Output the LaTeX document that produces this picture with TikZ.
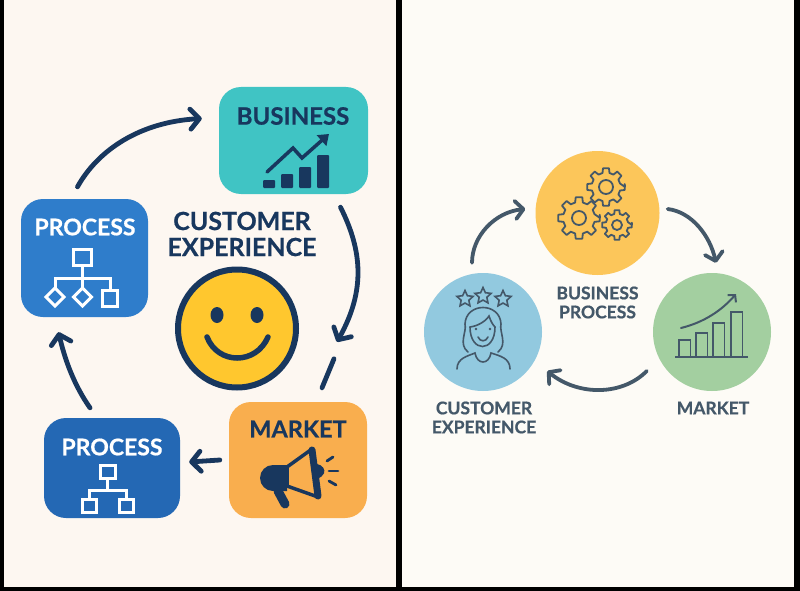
\documentclass[tikz,border=0pt]{standalone}
\usepackage{fontspec}
\setmainfont{Lato}[BoldFeatures={FakeBold=0.6}]
\usepackage{tikz}
\usetikzlibrary{arrows.meta, shapes.geometric}
\definecolor{navy}{RGB}{24, 55, 94}
\definecolor{slate}{RGB}{68, 88, 105}
\definecolor{creamleft}{RGB}{253, 247, 241}
\definecolor{creamright}{RGB}{253, 251, 246}
\definecolor{teal}{RGB}{64, 196, 196}
\definecolor{blueone}{RGB}{47, 125, 203}
\definecolor{bluetwo}{RGB}{36, 104, 180}
\definecolor{orangebox}{RGB}{249, 174, 78}
\definecolor{sun}{RGB}{255, 199, 46}
\definecolor{goldcirc}{RGB}{252, 198, 90}
\definecolor{skycirc}{RGB}{146, 201, 223}
\definecolor{greencirc}{RGB}{163, 207, 160}
\tikzset{
  card/.style={rounded corners=22, minimum width=#1, inner sep=0},
  flow/.style={draw=navy, line width=4.8, line cap=round, -{Straight Barb[length=9, width=20, line width=4.8, round]}},
  soft/.style={draw=slate, line width=3.8, line cap=round, -{Straight Barb[length=8, width=18, line width=3.8, round]}},
  title/.style={font=\bfseries\fontsize{#1}{#1}\selectfont, inner sep=0, text=navy},
  tag/.style={font=\bfseries\fontsize{17.5}{17.5}\selectfont, inner sep=0, text=slate},
  staricon/.style={star, star points=5, star point ratio=2.1, draw=slate, line width=1.6, inner sep=0, minimum size=17},
}
\newcommand{\gearicon}[4]{
  \draw[slate, line width=1.8, line join=round] (#1, #2) ++(0:#3)
    \foreach \a in {0, 45, ..., 315} {
      -- ({#1 + #3 * cos(\a - 9)}, {#2 + #3 * sin(\a - 9)})
      -- ({#1 + #3 * cos(\a + 9)}, {#2 + #3 * sin(\a + 9)})
      -- ({#1 + 0.76 * #3 * cos(\a + 14)}, {#2 + 0.76 * #3 * sin(\a + 14)})
      -- ({#1 + 0.76 * #3 * cos(\a + 31)}, {#2 + 0.76 * #3 * sin(\a + 31)})
    } -- cycle;
  \draw[slate, line width=1.8] (#1, #2) circle (#4);
}
\begin{document}
\begin{tikzpicture}[x=1pt, y=-1pt]

  \useasboundingbox (0, 0) rectangle (800, 591);
  \fill[black] (0, 0) rectangle (800, 591);
  \fill[creamleft] (4, 0) rectangle (396, 587);
  \fill[creamright] (401.5, 0) rectangle (793.5, 587);

  % left panel
  \node[card=149, minimum height=107, fill=teal] (business) at (293.5, 140.5) {};
  \node[card=127, minimum height=118, fill=blueone] (procone) at (84.5, 258) {};
  \node[card=136, minimum height=100, fill=bluetwo] (proctwo) at (112, 468) {};
  \node[card=138, minimum height=116, fill=orangebox] (market) at (298, 460) {};
  \node[circle, fill=sun, draw=navy, line width=6, minimum size=118, inner sep=0] (smiley) at (237, 328.5) {};

  \node[title=25] (custa) at (242, 221) {CUSTOMER};
  \node[title=25] (custb) at (242, 247) {EXPERIENCE};
  \node[title=24] (buslabel) at (293, 116) {BUSINESS};
  \node[title=23, text=white] (proclabela) at (85, 227) {PROCESS};
  \node[title=23, text=white] (proclabelb) at (112, 447) {PROCESS};
  \node[title=23.5] (marklabel) at (298, 429) {MARKET};

  \draw[flow] ([shift={(-7, -12)}]procone.north) .. controls (98, 150) and (140, 122) .. ([shift={(-17, -22)}]business.west);
  \draw[flow] ([shift={(47, 13)}]business.south) .. controls (362, 250) and (366, 290) .. ([shift={(39, -60)}]market.north);
  \draw[draw=navy, line width=4.8, line cap=round] ([shift={(36, -43)}]market.north) coordinate (dasha) -- ([shift={(24, -14)}]market.north);
  \draw[flow] ([shift={(-9, 0)}]market.west) -- ([shift={(9, -6)}]proctwo.east);
  \draw[flow] ([shift={(-22, -10)}]proctwo.north) .. controls (74, 385) and (65, 360) .. ([shift={(-26, 15)}]procone.south);

  % smiley
  \fill[navy] (217, 315) ellipse (6.5 and 8);
  \fill[navy] (257, 315) ellipse (6.5 and 8);
  \draw[navy, line width=5.5, line cap=round] (207, 337) .. controls (218, 365) and (256, 365) .. (268, 337);

  % business chart
  \foreach \x/\y in {263/180, 281/174, 299/167, 317/155} {
    \fill[navy, rounded corners=1] (\x, \y) rectangle (\x + 12, 188);
  }
  \draw[navy, line width=3.5, line cap=round, -{Triangle[length=10, width=14]}] (267, 172) -- (293, 148) -- (302, 158) -- (329, 134);

  % process icons
  \begin{scope}[draw=white, line width=3]
    \draw (73.5, 249) rectangle (91.5, 265);
    \draw (82.5, 265) -- (82.5, 288);
    \draw (55, 288) -- (55, 278) -- (110, 278) -- (110, 290);
    \draw (55, 288) -- (64, 297) -- (55, 306) -- (46, 297) -- cycle;
    \draw (82.5, 288) -- (91.5, 297) -- (82.5, 306) -- (73.5, 297) -- cycle;
    \draw (102, 290) rectangle (117, 306);
    \draw (100, 465) rectangle (115, 478);
    \draw (107.5, 478) -- (107.5, 490);
    \draw (89, 499) -- (89, 490) -- (126, 490) -- (126, 499);
    \draw (82, 499) rectangle (96, 512);
    \draw (119, 499) rectangle (133, 512);
  \end{scope}

  % megaphone
  \fill[navy] (287, 465) -- (273, 465) arc (270:90:13) -- (287, 491) -- cycle;
  \draw[navy, line width=3.5, line join=round] (287, 467) -- (312, 449) -- (318, 497) -- (287, 486) -- cycle;
  \draw[navy, line width=7, line cap=round] (312, 450) -- (318, 496);
  \draw[navy, line width=9, line cap=round] (278, 491) -- (285, 504);
  \fill[navy] (317, 464) arc (-75:75:10 and 7.5) -- cycle;
  \draw[navy, line width=2.8, line cap=round] (327, 461) -- (333, 457);
  \draw[navy, line width=2.8, line cap=round] (329, 471) -- (338, 471);
  \draw[navy, line width=2.8, line cap=round] (329, 481) -- (336, 485);

  % right panel
  \node[circle, fill=goldcirc, minimum size=124, inner sep=0] (gears) at (597.5, 213) {};
  \node[circle, fill=skycirc, minimum size=118, inner sep=0] (person) at (483, 332) {};
  \node[circle, fill=greencirc, minimum size=118, inner sep=0] (growth) at (712, 332) {};

  \node[tag] (taga) at (597.5, 293) {BUSINESS};
  \node[tag] (tagb) at (597.5, 312) {PROCESS};
  \node[tag] (tagc) at (484, 408) {CUSTOMER};
  \node[tag] (tagd) at (484, 427) {EXPERIENCE};
  \node[tag] (tage) at (713, 408) {MARKET};

  \draw[soft] ([shift={(-11, -10)}]person.north) .. controls (472, 236) and (495, 212) .. ([shift={(-10, -4)}]gears.west);
  \draw[soft] ([shift={(8, -4)}]gears.east) .. controls (692, 212) and (710, 236) .. ([shift={(4, -10)}]growth.north);
  \draw[soft] ([shift={(-6, 39)}]growth.west) .. controls (622, 396) and (578, 396) .. ([shift={(5, 39)}]person.east);

  % gears
  \gearicon{579}{218}{21}{7}
  \gearicon{606}{187}{19}{7}
  \gearicon{617}{225}{15}{5}

  % person
  \foreach \i/\x/\y in {1/465/299, 2/483/296, 3/503/299} {
    \node[staricon] (star\i) at (\x, \y) {};
  }
  \begin{scope}[slate, line width=1.6, line cap=round]
    \draw (468, 352) .. controls (458, 344) and (467, 332) .. (465, 324) .. controls (466, 302) and (500, 302) .. (501, 324) .. controls (499, 332) and (508, 344) .. (498, 352);
    \draw (470, 327) .. controls (478, 326) and (486, 321) .. (489, 316) .. controls (491, 322) and (493, 325) .. (495, 327);
    \draw (470, 327) .. controls (470, 353) and (495, 353) .. (495, 327);
    \draw (457, 369) .. controls (457, 358) and (468, 356) .. (475, 353) .. controls (477, 365) and (489, 365) .. (491, 353) .. controls (500, 356) and (510, 358) .. (510, 369);
    \draw (478, 337) .. controls (480, 342) and (486, 342) .. (488, 337);
    \fill (476, 329) circle (1.3);
    \fill (490, 329) circle (1.3);
  \end{scope}

  % market chart
  \begin{scope}[slate, line width=1.7]
    \draw (675, 357) -- (748, 357);
    \foreach \x/\y in {679/340, 696/333, 713/323, 731/312} {
      \draw (\x, 357) -- (\x, \y) -- (\x + 11.5, \y) -- (\x + 11.5, 357);
    }
    \draw[line width=2, line cap=round, -{Straight Barb[length=5, width=11]}] (681, 328) .. controls (705, 322) and (722, 310) .. (736, 294);
  \end{scope}

\end{tikzpicture}
\end{document}
